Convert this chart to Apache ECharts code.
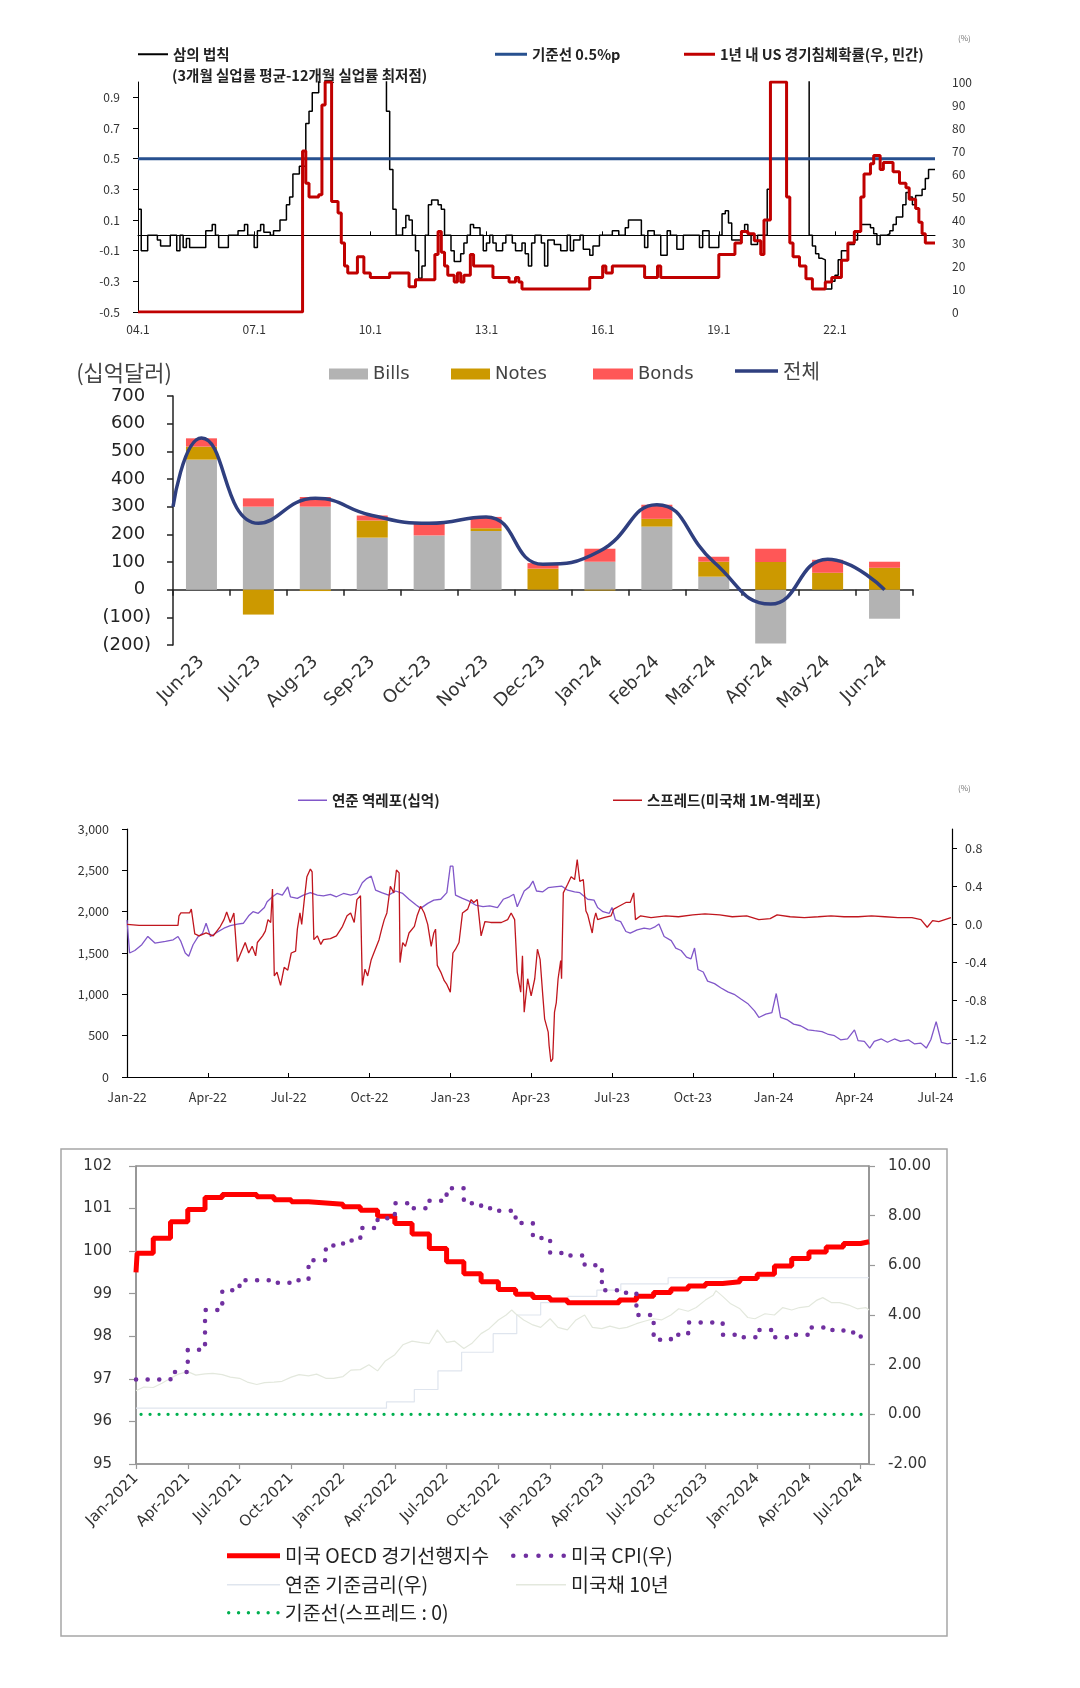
<!DOCTYPE html>
<html><head><meta charset="utf-8">
<script src="https://cdn.jsdelivr.net/npm/echarts@6/dist/echarts.min.js"></script>
<style>html,body{margin:0;padding:0;background:#fff}#c{width:1080px;height:1688px}</style>
</head><body><div id="c"></div>
<script>
// ================= DATA =================
// Chart 1 : Sahm rule vs recession probability (monthly, 2004-2024)
const c1XTickLabels = ['04.1','07.1','10.1','13.1','16.1','19.1','22.1'];
const c1YTicks = [-0.5,-0.3,-0.1,0.1,0.3,0.5,0.7,0.9];
const sahmRule = [['2004-01',0.17],['2004-02',-0.1],['2004-04',0.0],['2004-07',-0.03],['2004-08',-0.07],['2004-11',0.0],['2005-01',-0.1],['2005-02',0.0],['2005-03',-0.08],['2005-04',-0.02],['2005-05',-0.08],['2005-10',0.03],['2005-12',0.07],['2006-01',0.0],['2006-02',-0.08],['2006-05',0.0],['2006-08',0.03],['2006-10',0.07],['2006-11',0.0],['2007-01',-0.08],['2007-02',0.03],['2007-03',0.07],['2007-04',0.02],['2007-06',0.0],['2007-07',0.03],['2007-09',0.1],['2007-11',0.2],['2007-12',0.25],['2008-01',0.4],['2008-03',0.45],['2008-05',0.73],['2008-06',0.81],['2008-07',0.93],['2008-09',1.1],['2008-11',1.5],['2009-02',2.0],['2009-11',1.8],['2010-02',1.3],['2010-06',0.81],['2010-07',0.43],['2010-08',0.17],['2010-09',0.0],['2010-11',0.05],['2010-12',0.13],['2011-01',0.1],['2011-02',0.0],['2011-03',-0.1],['2011-04',-0.28],['2011-05',-0.2],['2011-06',0.0],['2011-07',0.2],['2011-08',0.23],['2011-10',0.2],['2011-11',0.17],['2011-12',0.0],['2012-02',-0.1],['2012-03',-0.17],['2012-05',-0.12],['2012-06',-0.05],['2012-07',0.0],['2012-08',0.07],['2012-09',0.05],['2012-11',0.0],['2012-12',-0.1],['2013-01',-0.05],['2013-02',0.0],['2013-03',-0.05],['2013-04',-0.1],['2013-06',-0.05],['2013-07',0.0],['2013-09',-0.05],['2013-10',-0.1],['2013-12',-0.05],['2014-01',-0.12],['2014-02',-0.2],['2014-03',-0.05],['2014-04',0.0],['2014-06',-0.05],['2014-07',-0.2],['2014-08',-0.03],['2014-10',-0.06],['2014-12',-0.1],['2015-02',0.0],['2015-03',-0.1],['2015-04',-0.03],['2015-06',0.0],['2015-07',-0.09],['2015-09',-0.13],['2015-10',-0.07],['2015-12',0.0],['2016-04',0.03],['2016-06',0.0],['2016-08',0.05],['2016-09',0.1],['2017-01',0.0],['2017-02',-0.08],['2017-03',0.03],['2017-05',0.0],['2017-07',-0.13],['2017-09',0.03],['2017-10',0.0],['2017-12',-0.09],['2018-02',0.0],['2018-07',-0.08],['2018-08',0.03],['2018-10',-0.08],['2019-01',0.0],['2019-02',0.14],['2019-03',0.16],['2019-04',0.08],['2019-05',-0.03],['2019-08',0.03],['2019-09',0.07],['2019-10',0.01],['2019-11',-0.06],['2020-01',0.0],['2020-04',0.3],['2020-05',3.0],['2020-09',4.0],['2021-01',3.0],['2021-04',1.5],['2021-05',0.0],['2021-06',-0.07],['2021-07',-0.12],['2021-08',-0.15],['2021-09',-0.16],['2021-10',-0.35],['2021-12',-0.3],['2022-01',-0.26],['2022-02',-0.16],['2022-03',-0.1],['2022-05',-0.06],['2022-07',-0.03],['2022-08',0.03],['2022-09',0.07],['2022-12',0.05],['2023-01',0.01],['2023-02',-0.06],['2023-03',0.0],['2023-05',0.01],['2023-06',0.03],['2023-07',0.07],['2023-08',0.12],['2023-10',0.2],['2023-11',0.28],['2023-12',0.25],['2024-01',0.2],['2024-02',0.26],['2024-04',0.3],['2024-05',0.37],['2024-06',0.43],['2024-08',0.43]];
const recessionProb = [['2004-01',0],['2008-04',70],['2008-05',56],['2008-06',50],['2008-09',51],['2008-10',90],['2008-11',100],['2009-01',48],['2009-03',43],['2009-04',30],['2009-05',20],['2009-06',17],['2009-09',24],['2009-11',17],['2010-01',15],['2010-07',17],['2011-01',11],['2011-03',14],['2011-09',25],['2011-10',35],['2011-11',26],['2011-12',20],['2012-01',16],['2012-03',13],['2012-04',17],['2012-05',13],['2012-06',16],['2012-08',25],['2012-09',20],['2013-03',15],['2013-08',13],['2013-10',15],['2013-11',13],['2013-12',10],['2015-09',15],['2016-01',20],['2016-02',17],['2016-04',20],['2017-02',15],['2017-06',20],['2017-07',15],['2019-01',25],['2019-06',30],['2019-08',35],['2019-10',34],['2019-12',31],['2020-02',25],['2020-03',40],['2020-05',100],['2020-10',50],['2020-11',30],['2020-12',24],['2021-02',20],['2021-04',14.5],['2021-06',10],['2021-10',13],['2021-12',15],['2022-03',22.5],['2022-05',30],['2022-07',35],['2022-09',50],['2022-10',60],['2022-12',64.5],['2023-01',68],['2023-03',62],['2023-04',65],['2023-07',61],['2023-09',56],['2023-11',54],['2023-12',49],['2024-02',45],['2024-03',39],['2024-04',34],['2024-05',30],['2024-08',30]];
const baseline05 = [['2004-01',0.5],['2024-08',0.5]];

// Chart 2 : Treasury net issuance (십억달러)
const c2Months = ['Jun-23','Jul-23','Aug-23','Sep-23','Oct-23','Nov-23','Dec-23','Jan-24','Feb-24','Mar-24','Apr-24','May-24','Jun-24'];
const c2Bills = [470,300,300,188,196,212,0,101,228,47,-195,0,-105];
const c2Notes = [47,-90,-5,62,0,10,76,-3,28,54,100,61,79];
const c2Bonds = [30,30,35,18,43,41,20,47,51,18,48,47,22];
const c2Total = [548,240,330,268,240,263,92,140,307,100,-52,110,0];
const c2TotalAtAxis = 300;   // where the 전체 curve meets the left axis

// Chart 3 : Fed reverse repo (left) & spread (right)
const c3XTickLabels = ['Jan-22','Apr-22','Jul-22','Oct-22','Jan-23','Apr-23','Jul-23','Oct-23','Jan-24','Apr-24','Jul-24'];
const c3RightTicks = [-1.6,-1.2,-0.8,-0.4,0,0.4,0.8];
const reverseRepo = [['2022-01-01',1900],['2022-01-04',1500],['2022-01-10',1530],['2022-01-18',1600],['2022-01-25',1700],['2022-02-02',1620],['2022-02-13',1640],['2022-02-21',1660],['2022-02-26',1700],['2022-03-01',1640],['2022-03-06',1500],['2022-03-10',1460],['2022-03-15',1600],['2022-03-21',1700],['2022-03-26',1740],['2022-03-30',1860],['2022-04-04',1700],['2022-04-11',1750],['2022-04-19',1800],['2022-04-26',1830],['2022-05-04',1850],['2022-05-11',1860],['2022-05-17',1950],['2022-05-22',2000],['2022-05-28',1980],['2022-06-04',2050],['2022-06-07',2120],['2022-06-13',2180],['2022-06-18',2220],['2022-06-24',2200],['2022-06-30',2300],['2022-07-03',2180],['2022-07-11',2160],['2022-07-18',2200],['2022-07-26',2230],['2022-08-03',2200],['2022-08-10',2190],['2022-08-18',2210],['2022-08-25',2180],['2022-09-02',2220],['2022-09-10',2200],['2022-09-17',2220],['2022-09-23',2350],['2022-09-28',2400],['2022-10-03',2430],['2022-10-08',2260],['2022-10-15',2230],['2022-10-23',2200],['2022-10-31',2250],['2022-11-08',2220],['2022-11-15',2150],['2022-11-23',2080],['2022-11-28',2040],['2022-12-06',2100],['2022-12-13',2140],['2022-12-21',2150],['2022-12-28',2230],['2023-01-01',2550],['2023-01-04',2550],['2023-01-07',2200],['2023-01-15',2160],['2023-01-22',2130],['2023-01-30',2080],['2023-02-07',2060],['2023-02-14',2070],['2023-02-22',2050],['2023-02-28',2150],['2023-03-07',2180],['2023-03-12',2210],['2023-03-16',2060],['2023-03-24',2250],['2023-03-30',2300],['2023-04-03',2370],['2023-04-07',2250],['2023-04-14',2240],['2023-04-20',2290],['2023-04-27',2300],['2023-05-05',2310],['2023-05-12',2260],['2023-05-20',2240],['2023-05-26',2230],['2023-06-04',2150],['2023-06-11',2140],['2023-06-15',2050],['2023-06-21',2000],['2023-06-28',1980],['2023-07-01',2050],['2023-07-05',1900],['2023-07-11',1880],['2023-07-17',1760],['2023-07-22',1740],['2023-07-30',1780],['2023-08-07',1800],['2023-08-14',1790],['2023-08-20',1820],['2023-08-24',1850],['2023-08-30',1700],['2023-09-07',1650],['2023-09-12',1560],['2023-09-18',1530],['2023-09-24',1450],['2023-09-29',1430],['2023-10-03',1560],['2023-10-07',1300],['2023-10-13',1270],['2023-10-18',1160],['2023-10-26',1130],['2023-11-02',1080],['2023-11-10',1030],['2023-11-17',1000],['2023-11-25',940],['2023-12-02',890],['2023-12-10',800],['2023-12-15',720],['2023-12-23',760],['2023-12-30',780],['2024-01-04',1010],['2024-01-09',720],['2024-01-17',690],['2024-01-24',640],['2024-02-01',620],['2024-02-09',570],['2024-02-16',560],['2024-02-24',550],['2024-03-01',520],['2024-03-09',500],['2024-03-16',450],['2024-03-24',460],['2024-04-01',570],['2024-04-05',440],['2024-04-12',430],['2024-04-18',350],['2024-04-23',430],['2024-05-01',460],['2024-05-08',420],['2024-05-16',460],['2024-05-23',430],['2024-06-01',450],['2024-06-08',400],['2024-06-15',410],['2024-06-21',350],['2024-06-26',450],['2024-07-02',670],['2024-07-08',420],['2024-07-15',400],['2024-07-19',410]];
const spread1M = [['2022-01-01',0.0],['2022-01-15',-0.01],['2022-02-10',-0.01],['2022-02-26',-0.01],['2022-02-27',0.09],['2022-03-01',0.12],['2022-03-11',0.12],['2022-03-13',0.16],['2022-03-15',0.14],['2022-03-17',-0.10],['2022-03-22',-0.12],['2022-03-30',-0.09],['2022-04-07',-0.12],['2022-04-15',-0.02],['2022-04-19',0.05],['2022-04-22',0.13],['2022-04-26',0.02],['2022-04-30',0.12],['2022-05-04',-0.39],['2022-05-08',-0.30],['2022-05-13',-0.19],['2022-05-17',-0.30],['2022-05-21',-0.23],['2022-05-25',-0.33],['2022-05-27',-0.19],['2022-06-02',-0.12],['2022-06-05',-0.07],['2022-06-08',0.05],['2022-06-11',0.02],['2022-06-13',0.37],['2022-06-15',-0.54],['2022-06-18',-0.50],['2022-06-22',-0.64],['2022-06-26',-0.45],['2022-06-30',-0.48],['2022-07-01',-0.50],['2022-07-04',-0.30],['2022-07-09',-0.28],['2022-07-11',-0.05],['2022-07-14',0.12],['2022-07-16',0.00],['2022-07-19',0.26],['2022-07-22',0.50],['2022-07-26',0.58],['2022-07-28',0.55],['2022-07-30',-0.16],['2022-08-03',-0.12],['2022-08-07',-0.21],['2022-08-10',-0.16],['2022-08-18',-0.15],['2022-08-25',-0.12],['2022-09-01',-0.02],['2022-09-06',0.09],['2022-09-10',0.12],['2022-09-14',0.02],['2022-09-17',0.26],['2022-09-21',0.30],['2022-09-23',-0.64],['2022-09-26',-0.47],['2022-09-29',-0.54],['2022-10-03',-0.37],['2022-10-06',-0.30],['2022-10-12',-0.16],['2022-10-15',-0.05],['2022-10-18',0.05],['2022-10-21',0.12],['2022-10-25',0.40],['2022-10-29',0.33],['2022-11-01',0.57],['2022-11-04',0.54],['2022-11-05',-0.40],['2022-11-08',-0.19],['2022-11-11',-0.23],['2022-11-15',-0.09],['2022-11-21',-0.02],['2022-11-24',0.09],['2022-11-28',0.19],['2022-12-02',0.12],['2022-12-06',0.00],['2022-12-10',-0.23],['2022-12-13',-0.09],['2022-12-15',-0.05],['2022-12-17',-0.43],['2022-12-21',-0.50],['2022-12-25',-0.59],['2022-12-28',-0.63],['2023-01-01',-0.71],['2023-01-04',-0.30],['2023-01-07',-0.26],['2023-01-11',-0.19],['2023-01-15',0.12],['2023-01-21',0.16],['2023-01-25',0.26],['2023-01-28',0.23],['2023-02-01',0.26],['2023-02-05',-0.12],['2023-02-09',0.03],['2023-02-15',0.02],['2023-02-26',0.02],['2023-03-05',0.05],['2023-03-09',0.12],['2023-03-13',0.05],['2023-03-16',-0.50],['2023-03-20',-0.71],['2023-03-22',-0.33],['2023-03-24',-0.92],['2023-03-28',-0.57],['2023-04-01',-0.75],['2023-04-05',-0.57],['2023-04-08',-0.26],['2023-04-11',-0.37],['2023-04-14',-0.75],['2023-04-16',-0.99],['2023-04-20',-1.13],['2023-04-21',-1.27],['2023-04-23',-1.44],['2023-04-25',-1.41],['2023-04-27',-0.92],['2023-04-29',-0.82],['2023-05-01',-0.57],['2023-05-04',-0.38],['2023-05-05',-0.57],['2023-05-07',0.33],['2023-05-12',0.42],['2023-05-16',0.50],['2023-05-20',0.47],['2023-05-23',0.68],['2023-05-26',0.45],['2023-05-30',0.47],['2023-06-02',0.14],['2023-06-04',0.10],['2023-06-09',-0.09],['2023-06-11',0.05],['2023-06-13',0.12],['2023-06-15',0.05],['2023-06-22',0.07],['2023-06-30',0.09],['2023-07-03',0.16],['2023-07-09',0.19],['2023-07-17',0.23],['2023-07-22',0.23],['2023-07-26',0.33],['2023-07-28',0.05],['2023-08-03',0.09],['2023-08-15',0.07],['2023-09-01',0.09],['2023-09-15',0.08],['2023-10-01',0.10],['2023-10-15',0.11],['2023-11-01',0.10],['2023-11-15',0.08],['2023-12-01',0.09],['2023-12-15',0.05],['2023-12-28',0.06],['2024-01-05',0.10],['2024-01-20',0.08],['2024-02-05',0.07],['2024-02-20',0.08],['2024-03-05',0.09],['2024-03-20',0.08],['2024-04-05',0.08],['2024-04-20',0.09],['2024-05-05',0.08],['2024-05-20',0.07],['2024-06-05',0.07],['2024-06-15',0.05],['2024-06-22',-0.03],['2024-06-28',0.04],['2024-07-05',0.03],['2024-07-12',0.05],['2024-07-19',0.07]];

// Chart 4 : OECD CLI (left), CPI / Fed rate / UST10Y (right)
const c4XTickLabels = ['Jan-2021','Apr-2021','Jul-2021','Oct-2021','Jan-2022','Apr-2022','Jul-2022','Oct-2022','Jan-2023','Apr-2023','Jul-2023','Oct-2023','Jan-2024','Apr-2024','Jul-2024'];
const oecdCli = [['2021-01-01',99.5],['2021-01-03',99.95],['2021-02',100.3],['2021-03',100.69],['2021-04',100.98],['2021-05',101.26],['2021-06',101.33],['2021-08',101.28],['2021-09',101.21],['2021-10',101.16],['2021-11',101.13],['2021-12',101.1],['2022-01',101.04],['2022-02',100.96],['2022-03',100.82],['2022-04',100.65],['2022-05',100.4],['2022-06',100.06],['2022-07',99.75],['2022-08',99.47],['2022-09',99.28],['2022-10',99.1],['2022-11',98.99],['2022-12',98.91],['2023-01',98.85],['2023-02',98.79],['2023-05',98.85],['2023-06',98.94],['2023-07',99.03],['2023-08',99.11],['2023-09',99.18],['2023-10',99.24],['2023-11',99.28],['2023-12',99.36],['2024-01',99.46],['2024-02',99.65],['2024-03',99.83],['2024-04',99.98],['2024-05',100.1],['2024-06',100.18],['2024-07',100.22],['2024-07-16',100.22]];
const cpiYoY = [['2021-01',1.4],['2021-03',1.7],['2021-04',2.6],['2021-05',4.2],['2021-06',5.0],['2021-07',5.4],['2021-09',5.3],['2021-10',5.4],['2021-11',6.2],['2021-12',6.8],['2022-01',7.0],['2022-02',7.5],['2022-03',7.9],['2022-04',8.5],['2022-05',8.3],['2022-06',8.6],['2022-07',9.1],['2022-08',8.5],['2022-09',8.3],['2022-10',8.2],['2022-11',7.7],['2022-12',7.1],['2023-01',6.5],['2023-02',6.4],['2023-03',6.0],['2023-04',5.0],['2023-05',4.9],['2023-06',4.0],['2023-07',3.0],['2023-08',3.2],['2023-09',3.7],['2023-11',3.2],['2023-12',3.1],['2024-01',3.4],['2024-02',3.1],['2024-03',3.2],['2024-04',3.5],['2024-05',3.4],['2024-06',3.3],['2024-07',3.0],['2024-07-08',3.0]];
const fedRate = [['2021-01-01',0.25],['2022-03-17',0.5],['2022-05-05',1.0],['2022-06-16',1.75],['2022-07-28',2.5],['2022-09-22',3.25],['2022-11-03',4.0],['2022-12-15',4.5],['2023-02-02',4.75],['2023-03-23',5.0],['2023-05-04',5.25],['2023-07-27',5.5],['2024-07-16',5.5]];
const ust10y = [['2021-01-01',0.95],['2021-01-15',1.1],['2021-02-01',1.08],['2021-02-15',1.25],['2021-03-01',1.45],['2021-03-15',1.62],['2021-04-01',1.72],['2021-04-15',1.58],['2021-05-01',1.63],['2021-05-15',1.65],['2021-06-01',1.6],['2021-06-15',1.5],['2021-07-01',1.45],['2021-07-15',1.3],['2021-08-01',1.2],['2021-08-15',1.28],['2021-09-01',1.3],['2021-09-15',1.33],['2021-10-01',1.5],['2021-10-15',1.6],['2021-11-01',1.55],['2021-11-15',1.62],['2021-12-01',1.45],['2021-12-15',1.45],['2022-01-01',1.52],['2022-01-15',1.78],['2022-02-01',1.8],['2022-02-15',2.0],['2022-03-01',1.75],['2022-03-15',2.15],['2022-04-01',2.4],['2022-04-15',2.8],['2022-05-01',2.95],['2022-05-15',2.9],['2022-06-01',2.85],['2022-06-15',3.4],['2022-07-01',2.9],['2022-07-15',2.95],['2022-08-01',2.65],['2022-08-15',2.85],['2022-09-01',3.25],['2022-09-15',3.45],['2022-10-01',3.8],['2022-10-15',4.0],['2022-10-25',4.2],['2022-11-01',4.05],['2022-11-15',3.8],['2022-12-01',3.6],['2022-12-15',3.5],['2023-01-01',3.85],['2023-01-15',3.5],['2023-02-01',3.4],['2023-02-15',3.8],['2023-03-01',4.0],['2023-03-15',3.5],['2023-04-01',3.45],['2023-04-15',3.55],['2023-05-01',3.45],['2023-05-15',3.5],['2023-06-01',3.65],['2023-06-15',3.75],['2023-07-01',3.85],['2023-07-15',3.8],['2023-08-01',4.0],['2023-08-15',4.25],['2023-09-01',4.15],['2023-09-15',4.3],['2023-10-01',4.6],['2023-10-15',4.8],['2023-10-20',4.98],['2023-11-01',4.75],['2023-11-15',4.45],['2023-12-01',4.25],['2023-12-15',3.9],['2023-12-28',3.85],['2024-01-15',4.05],['2024-02-01',4.0],['2024-02-15',4.3],['2024-03-01',4.2],['2024-03-15',4.3],['2024-04-01',4.35],['2024-04-15',4.6],['2024-04-25',4.7],['2024-05-10',4.5],['2024-05-25',4.5],['2024-06-10',4.4],['2024-06-25',4.25],['2024-07-10',4.3],['2024-07-16',4.2]];
const spreadZero = [['2021-01-10',0],['2024-07-08',0]];

// ================= HELPERS =================
function mi(s, baseYear){
  const p = s.split('-').map(Number);
  const y = p[0], m = p[1], d = p[2] || 1;
  const dim = new Date(y, m, 0).getDate();
  return (y - baseYear) * 12 + (m - 1) + (d - 1) / dim;
}
const toXY = (arr, base) => arr.map(([d, v]) => [mi(d, base), v]);
const range = (a, b, s) => { const r = []; for (let v = a; v <= b + 1e-9; v += s) r.push(v); return r; };

const KR = '"Noto Sans CJK KR","Noto Sans",sans-serif';
const DJ = '"DejaVu Sans",sans-serif';
const dotsPath = (n, period) => {
  let p = 'path://';
  for (let i = 0; i < n; i++) { const cx = 1 + i * period; p += `M${cx-1},1a1,1 0 1,0 2,0a1,1 0 1,0 -2,0z`; }
  return p;
};

const c1XTicks = range(0, 216, 36);
const c3XTicks = range(0, 30, 3);
const c4XTicks = range(0, 42, 3);
const c2TotalXY = [[-0.5, c2TotalAtAxis]].concat(c2Total.map((v, i) => [i, v]));

// ================= OPTION =================
const chart = echarts.init(document.getElementById('c'), null, {renderer: 'canvas'});
const legendBase = {padding: 0, selectedMode: false, orient: 'horizontal'};
const lg1Text = {fontFamily: KR, fontSize: 14.5, fontWeight: 'bold', color: '#222'};
const lg3Text = {fontFamily: KR, fontSize: 14.5, fontWeight: 'bold', color: '#222'};
const lg4Text = {fontFamily: KR, fontSize: 19.5, color: '#222'};
const lg2Text = {fontFamily: DJ, fontSize: 18, color: '#444'};
const option = {
  backgroundColor: '#fff',
  animation: false,
  grid: [
    {left: 138, top: 82, width: 797, height: 230},
    {left: 173, top: 396, width: 740, height: 249},
    {left: 127, top: 829, width: 825, height: 248},
    {left: 136, top: 1166, width: 733, height: 298, show: true, borderColor: '#555', borderWidth: 1.2}
  ],
  xAxis: [
    {gridIndex: 0, type: 'value', min: 0, max: 247, position: 'bottom',
      axisLine: {show: false, onZero: false}, axisTick: {show: false}, splitLine: {show: false},
      axisLabel: {customValues: c1XTicks, formatter: v => c1XTickLabels[Math.round(v / 36)], fontFamily: KR, fontSize: 12, color: '#333', margin: 11}},
    {gridIndex: 0, type: 'value', min: 0, max: 247, position: 'top',
      axisLine: {show: true, onZero: true, onZeroAxisIndex: 0, lineStyle: {color: '#000', width: 1}},
      axisTick: {show: true, customValues: c1XTicks, length: 4, lineStyle: {color: '#000'}},
      axisLabel: {show: false}, splitLine: {show: false}},
    {gridIndex: 1, type: 'category', data: c2Months, position: 'bottom',
      axisLine: {show: true, onZero: true, lineStyle: {color: '#222', width: 1.5}},
      axisTick: {show: true, length: 6, lineStyle: {color: '#222', width: 1.5}},
      axisLabel: {show: false}},
    {gridIndex: 1, type: 'category', data: c2Months, position: 'bottom',
      axisLine: {show: false, onZero: false}, axisTick: {show: false},
      axisLabel: {rotate: 45, fontFamily: DJ, fontSize: 18, color: '#333', margin: 14, interval: 0}},
    {gridIndex: 2, type: 'value', min: 0, max: 30.62, position: 'bottom',
      axisLine: {show: true, onZero: false, lineStyle: {color: '#000', width: 1.2}},
      axisTick: {show: true, inside: true, customValues: c3XTicks, length: 4, lineStyle: {color: '#000'}},
      axisLabel: {customValues: c3XTicks, formatter: v => c3XTickLabels[Math.round(v / 3)], fontFamily: KR, fontSize: 12.5, color: '#333', margin: 14},
      splitLine: {show: false}},
    {gridIndex: 3, type: 'value', min: 0, max: 42.48, position: 'bottom',
      axisLine: {show: true, onZero: false, lineStyle: {color: '#999', width: 1.5}},
      axisTick: {show: true, customValues: c4XTicks, length: 5, lineStyle: {color: '#999', width: 1.2}},
      axisLabel: {customValues: c4XTicks, formatter: v => c4XTickLabels[Math.round(v / 3)], rotate: 45, fontFamily: DJ, fontSize: 15, color: '#333', margin: 12},
      splitLine: {show: false}},
    {gridIndex: 1, type: 'value', min: -0.5, max: 12.5, show: false}
  ],
  yAxis: [
    {gridIndex: 0, type: 'value', min: -0.5, max: 1.0, position: 'left',
      axisLine: {show: true, onZero: false, lineStyle: {color: '#000', width: 1}},
      axisTick: {show: true, customValues: c1YTicks, length: 5, lineStyle: {color: '#000'}},
      axisLabel: {customValues: c1YTicks, formatter: v => v.toFixed(1), fontFamily: KR, fontSize: 12, color: '#333', margin: 18},
      splitLine: {show: false}},
    {gridIndex: 0, type: 'value', min: 0, max: 100, interval: 10, position: 'right',
      axisLine: {show: false, onZero: false}, axisTick: {show: false},
      axisLabel: {fontFamily: KR, fontSize: 12, color: '#333', margin: 17}, splitLine: {show: false}},
    {gridIndex: 1, type: 'value', min: -200, max: 700, interval: 100, position: 'left',
      axisLine: {show: true, onZero: false, lineStyle: {color: '#222', width: 1.5}},
      axisTick: {show: true, length: 6, lineStyle: {color: '#222', width: 1.5}},
      axisLabel: {formatter: v => v < 0 ? '(' + (-v) + ')' : v + ' ', fontFamily: DJ, fontSize: 18, color: '#222', margin: 22},
      splitLine: {show: false}},
    {gridIndex: 2, type: 'value', min: 0, max: 3000, interval: 500, position: 'left',
      axisLine: {show: true, onZero: false, lineStyle: {color: '#000', width: 1.2}},
      axisTick: {show: true, length: 5, lineStyle: {color: '#000'}},
      axisLabel: {formatter: v => v.toLocaleString('en-US'), fontFamily: KR, fontSize: 12.5, color: '#333', margin: 18},
      splitLine: {show: false}},
    {gridIndex: 2, type: 'value', min: -1.6, max: 1.0, position: 'right',
      axisLine: {show: true, onZero: false, lineStyle: {color: '#000', width: 1.2}},
      axisTick: {show: true, customValues: c3RightTicks, length: 5, lineStyle: {color: '#000'}},
      axisLabel: {customValues: c3RightTicks, formatter: v => v.toFixed(1), fontFamily: KR, fontSize: 12.5, color: '#333', margin: 13},
      splitLine: {show: false}},
    {gridIndex: 3, type: 'value', min: 95, max: 102, interval: 1, position: 'left',
      axisLine: {show: true, onZero: false, lineStyle: {color: '#999', width: 1.5}},
      axisTick: {show: true, length: 7, lineStyle: {color: '#999', width: 1.2}},
      axisLabel: {fontFamily: DJ, fontSize: 15, color: '#333', margin: 24}, splitLine: {show: false}},
    {gridIndex: 3, type: 'value', min: -2, max: 10, interval: 2, position: 'right',
      axisLine: {show: true, onZero: false, lineStyle: {color: '#999', width: 1.5}},
      axisTick: {show: true, length: 6, lineStyle: {color: '#999', width: 1.2}},
      axisLabel: {formatter: v => v.toFixed(2), fontFamily: DJ, fontSize: 15, color: '#333', margin: 19}, splitLine: {show: false}}
  ],
  legend: [
    // chart 1
    {...legendBase, left: 138, top: 47, itemWidth: 30, itemHeight: 2, textStyle: lg1Text,
      data: [{name: '삼의 법칙', icon: 'rect', itemStyle: {color: '#000', borderWidth: 0}}]},
    {...legendBase, left: 495, top: 47, itemWidth: 32, itemHeight: 3, textStyle: lg1Text,
      data: [{name: '기준선 0.5%p', icon: 'rect', itemStyle: {color: '#27508f', borderWidth: 0}}]},
    {...legendBase, left: 684, top: 47, itemWidth: 31, itemHeight: 3, textStyle: lg1Text,
      data: [{name: '1년 내 US 경기침체확률(우, 민간)', icon: 'rect', itemStyle: {color: '#c00000', borderWidth: 0}}]},
    // chart 2
    {...legendBase, left: 329, top: 365, itemWidth: 39, itemHeight: 11, textStyle: lg2Text,
      data: [{name: 'Bills', icon: 'rect', itemStyle: {color: '#b3b3b3', borderWidth: 0}}]},
    {...legendBase, left: 451, top: 365, itemWidth: 39, itemHeight: 11, textStyle: lg2Text,
      data: [{name: 'Notes', icon: 'rect', itemStyle: {color: '#cc9900', borderWidth: 0}}]},
    {...legendBase, left: 593, top: 365, itemWidth: 40, itemHeight: 11, textStyle: lg2Text,
      data: [{name: 'Bonds', icon: 'rect', itemStyle: {color: '#ff5757', borderWidth: 0}}]},
    {...legendBase, left: 735, top: 361, itemWidth: 43, itemHeight: 20, textStyle: {fontFamily: KR, fontSize: 20, color: '#444'},
      data: [{name: '전체', icon: 'path://M0,8.2h43v3.6h-43z', itemStyle: {color: '#2f3f7f', borderWidth: 0}}]},
    // chart 3
    {...legendBase, left: 298, top: 793, itemWidth: 29, itemHeight: 1.5, textStyle: lg3Text,
      data: [{name: '연준 역레포(십억)', icon: 'rect', itemStyle: {color: '#8157c9', borderWidth: 0}}]},
    {...legendBase, left: 613, top: 793, itemWidth: 29, itemHeight: 1.5, textStyle: lg3Text,
      data: [{name: '스프레드(미국채 1M-역레포)', icon: 'rect', itemStyle: {color: '#c0161e', borderWidth: 0}}]},
    // chart 4
    {...legendBase, left: 227, top: 1546, itemWidth: 53, itemHeight: 5, textStyle: lg4Text,
      data: [{name: '미국 OECD 경기선행지수', icon: 'rect', itemStyle: {color: '#ff0000', borderWidth: 0}}]},
    {...legendBase, left: 511, top: 1546, itemWidth: 55, itemHeight: 4.6, textStyle: lg4Text,
      data: [{name: '미국 CPI(우)', icon: dotsPath(5, 5.5), itemStyle: {color: '#7030a0', borderWidth: 0}}]},
    {...legendBase, left: 227, top: 1575, itemWidth: 53, itemHeight: 1.5, textStyle: lg4Text,
      data: [{name: '연준 기준금리(우)', icon: 'rect', itemStyle: {color: '#dfe5ee', borderWidth: 0}}]},
    {...legendBase, left: 516, top: 1575, itemWidth: 50, itemHeight: 1.5, textStyle: lg4Text,
      data: [{name: '미국채 10년', icon: 'rect', itemStyle: {color: '#e3e8dd', borderWidth: 0}}]},
    {...legendBase, left: 227, top: 1603, itemWidth: 53, itemHeight: 3.4, textStyle: lg4Text,
      data: [{name: '기준선(스프레드 : 0)', icon: dotsPath(6, 5.8), itemStyle: {color: '#00b050', borderWidth: 0}}]}
  ],
  graphic: [
    {type: 'rect', z: 0, shape: {x: 61, y: 1149, width: 886, height: 487}, style: {fill: 'none', stroke: '#a6a6a6', lineWidth: 1.5}},
    {type: 'text', x: 172, y: 75, style: {text: '(3개월 실업률 평균-12개월 실업률 최저점)', font: 'bold 14.5px ' + KR, fill: '#222', verticalAlign: 'middle'}},
    {type: 'text', x: 958, y: 38, style: {text: '(%)', font: '8px ' + KR, fill: '#777', verticalAlign: 'middle'}},
    {type: 'text', x: 172, y: 373, style: {text: '(십억달러)', font: '22px ' + KR, fill: '#444', align: 'right', verticalAlign: 'middle'}},
    {type: 'text', x: 958, y: 788, style: {text: '(%)', font: '8px ' + KR, fill: '#777', verticalAlign: 'middle'}}
  ],
  series: [
    // chart 1
    {name: '삼의 법칙', type: 'line', xAxisIndex: 0, yAxisIndex: 0, step: 'end', symbol: 'none',
      data: toXY(sahmRule, 2004), lineStyle: {color: '#000', width: 1.5}, itemStyle: {color: '#000'}},
    {name: '기준선 0.5%p', type: 'line', xAxisIndex: 0, yAxisIndex: 0, symbol: 'none',
      data: toXY(baseline05, 2004), lineStyle: {color: '#27508f', width: 3}, itemStyle: {color: '#27508f'}},
    {name: '1년 내 US 경기침체확률(우, 민간)', type: 'line', xAxisIndex: 0, yAxisIndex: 1, step: 'end', symbol: 'none',
      data: toXY(recessionProb, 2004), lineStyle: {color: '#c00000', width: 3}, itemStyle: {color: '#c00000'}},
    // chart 2
    {name: 'Bills', type: 'bar', xAxisIndex: 2, yAxisIndex: 2, stack: 'iss', barWidth: 31, data: c2Bills, itemStyle: {color: '#b3b3b3'}},
    {name: 'Notes', type: 'bar', xAxisIndex: 2, yAxisIndex: 2, stack: 'iss', barWidth: 31, data: c2Notes, itemStyle: {color: '#cc9900'}},
    {name: 'Bonds', type: 'bar', xAxisIndex: 2, yAxisIndex: 2, stack: 'iss', barWidth: 31, data: c2Bonds, itemStyle: {color: '#ff5757'}},
    {name: '전체', type: 'line', xAxisIndex: 6, yAxisIndex: 2, smooth: 0.5, symbol: 'none', z: 5,
      data: c2TotalXY, lineStyle: {color: '#2f3f7f', width: 3.5}, itemStyle: {color: '#2f3f7f'}},
    // chart 3
    {name: '연준 역레포(십억)', type: 'line', xAxisIndex: 4, yAxisIndex: 3, symbol: 'none',
      data: toXY(reverseRepo, 2022), lineStyle: {color: '#8157c9', width: 1.3}, itemStyle: {color: '#8157c9'}},
    {name: '스프레드(미국채 1M-역레포)', type: 'line', xAxisIndex: 4, yAxisIndex: 4, symbol: 'none',
      data: toXY(spread1M, 2022), lineStyle: {color: '#c0161e', width: 1.3}, itemStyle: {color: '#c0161e'}},
    // chart 4
    {name: '연준 기준금리(우)', type: 'line', xAxisIndex: 5, yAxisIndex: 6, step: 'end', symbol: 'none',
      data: toXY(fedRate, 2021), lineStyle: {color: '#dfe5ee', width: 1.2}, itemStyle: {color: '#dfe5ee'}},
    {name: '미국채 10년', type: 'line', xAxisIndex: 5, yAxisIndex: 6, symbol: 'none',
      data: toXY(ust10y, 2021), lineStyle: {color: '#e3e8dd', width: 1.2}, itemStyle: {color: '#e3e8dd'}},
    {name: '기준선(스프레드 : 0)', type: 'line', xAxisIndex: 5, yAxisIndex: 6, symbol: 'none',
      data: toXY(spreadZero, 2021), lineStyle: {color: '#00b050', width: 3.2, type: [0.1, 8.9], cap: 'round'}, itemStyle: {color: '#00b050'}},
    {name: '미국 OECD 경기선행지수', type: 'line', xAxisIndex: 5, yAxisIndex: 5, step: 'end', symbol: 'none',
      data: toXY(oecdCli, 2021), lineStyle: {color: '#ff0000', width: 5}, itemStyle: {color: '#ff0000'}},
    {name: '미국 CPI(우)', type: 'line', xAxisIndex: 5, yAxisIndex: 6, step: 'end', symbol: 'none',
      data: toXY(cpiYoY, 2021), lineStyle: {color: '#7030a0', width: 4.5, type: [0.1, 11.5], cap: 'round'}, itemStyle: {color: '#7030a0'}}
  ]
};
chart.setOption(option);
</script>
</body></html>
